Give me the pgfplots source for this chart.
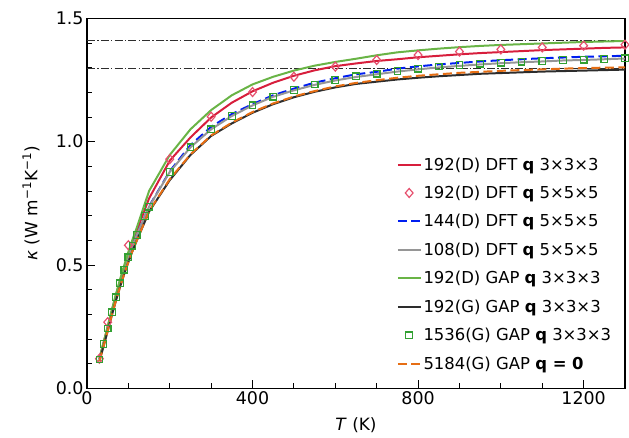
\documentclass[border=0pt]{standalone}
\usepackage{fontspec}
\setmainfont{DejaVu Sans}
\usepackage{pgfplots}
\pgfplotsset{compat=1.18}
\definecolor{cred}{RGB}{215,30,60}
\definecolor{cdiam}{RGB}{230,80,110}
\definecolor{cblue}{RGB}{0,30,240}
\definecolor{cgray}{RGB}{150,150,150}
\definecolor{cgreen}{RGB}{105,180,70}
\definecolor{cblack}{RGB}{45,45,45}
\definecolor{csq}{RGB}{50,160,50}
\definecolor{corange}{RGB}{230,110,20}
\begin{document}
\begin{tikzpicture}
\begin{axis}[
 scale only axis, width=538bp, height=370bp, at={(0,0)}, anchor=south west,
 xmin=0, xmax=1300, ymin=0, ymax=1.5,
 xtick={0,400,800,1200}, xticklabels={0,400,800,1200}, minor x tick num=3,
 ytick={0,0.5,1.0,1.5}, yticklabels={0.0,0.5,1.0,1.5}, minor y tick num=4,
 tick pos=left, tick align=inside,
 major tick length=8bp, minor tick length=5bp,
 every tick/.style={black, line width=0.9pt},
 axis line style={line width=1.1pt},
 ticklabel style={font=\fontsize{17.5}{20}\selectfont},
 xlabel={\textit{T} (K)}, ylabel={\textit{κ} (W m\textsuperscript{−1}K\textsuperscript{−1})},
 label style={font=\fontsize{17}{20}\selectfont},
 ylabel style={at={(axis description cs:-0.104,0.5)}, anchor=center},
 xlabel style={at={(axis description cs:0.5,-0.099)}, anchor=center},
 legend style={draw=none, fill=none, at={(0.57,0.635)}, anchor=north west,
   font=\fontsize{16.5}{19}\selectfont, row sep=10.5bp, cells={anchor=west}},
 legend image code/.code={\draw[mark repeat=2,mark phase=2,#1] plot coordinates {(0cm,0cm) (0.4cm,0cm) (0.8cm,0cm)};},
]
\addplot[cblack, line width=0.8pt, dash pattern=on 8bp off 2.2bp on 1.4bp off 2.2bp, forget plot] coordinates {(0,1.41) (1300,1.41)};
\addplot[cblack, line width=0.8pt, dash pattern=on 8bp off 2.2bp on 1.4bp off 2.2bp, forget plot] coordinates {(0,1.296) (1300,1.296)};
% 192(D) DFT q 3x3x3
\addplot[cred, no marks, line width=2pt] coordinates {(30,0.12) (40,0.185) (50,0.25) (60,0.315) (70,0.378) (80,0.437) (90,0.492) (100,0.545) (110,0.593) (120,0.638) (150,0.77) (200,0.923) (250,1.017) (300,1.098) (350,1.158) (400,1.204) (450,1.239) (500,1.267) (550,1.289) (600,1.306) (650,1.317) (700,1.327) (750,1.334) (800,1.342) (850,1.348) (900,1.354) (950,1.359) (1000,1.363) (1050,1.367) (1100,1.371) (1150,1.374) (1200,1.377) (1250,1.380) (1300,1.382)};
\addlegendentry{192(D) DFT \textbf{q} 3×3×3}
% 192(D) DFT q 5x5x5
\addplot[cdiam, only marks, mark=diamond, mark size=4.5pt, mark options={xscale=1.15, line width=1.2pt}] coordinates {(30,0.12) (50,0.268) (100,0.58) (200,0.929) (300,1.101) (400,1.201) (500,1.263) (600,1.304) (700,1.331) (800,1.351) (900,1.365) (1000,1.374) (1100,1.382) (1200,1.389) (1300,1.393)};
\addlegendentry{192(D) DFT \textbf{q} 5×5×5}
% 144(D) DFT q 5x5x5
\addplot[cblue, no marks, line width=2pt, dash pattern=on 9bp off 4.5bp] coordinates {(30,0.117) (40,0.18) (50,0.242) (60,0.308) (70,0.369) (80,0.426) (90,0.481) (100,0.531) (110,0.578) (120,0.621) (140,0.698) (150,0.738) (200,0.88) (250,0.986) (300,1.060) (350,1.112) (400,1.152) (450,1.188) (500,1.215) (550,1.239) (600,1.257) (650,1.273) (700,1.283) (750,1.296) (800,1.305) (850,1.313) (900,1.319) (950,1.325) (1000,1.330) (1050,1.334) (1100,1.338) (1150,1.341) (1200,1.344) (1250,1.346) (1300,1.348)};
\addlegendentry{144(D) DFT \textbf{q} 5×5×5}
% 108(D) DFT q 5x5x5
\addplot[cgray, no marks, line width=2pt] coordinates {(30,0.117) (40,0.18) (50,0.242) (60,0.308) (70,0.369) (80,0.426) (90,0.481) (100,0.531) (110,0.578) (120,0.621) (140,0.698) (150,0.736) (200,0.877) (250,0.977) (300,1.050) (350,1.104) (400,1.147) (450,1.182) (500,1.208) (550,1.230) (600,1.248) (650,1.262) (700,1.273) (750,1.284) (800,1.293) (850,1.301) (900,1.307) (950,1.313) (1000,1.318) (1050,1.322) (1100,1.325) (1150,1.329) (1200,1.331) (1250,1.334) (1300,1.337)};
\addlegendentry{108(D) DFT \textbf{q} 5×5×5}
% 192(D) GAP q 3x3x3
\addplot[cgreen, no marks, line width=2pt] coordinates {(30,0.12) (40,0.185) (50,0.25) (60,0.318) (70,0.382) (80,0.442) (90,0.499) (100,0.553) (110,0.603) (120,0.65) (150,0.80) (200,0.946) (250,1.05) (300,1.128) (350,1.188) (400,1.232) (450,1.263) (500,1.288) (550,1.308) (600,1.323) (650,1.336) (700,1.350) (750,1.362) (800,1.370) (850,1.377) (900,1.383) (950,1.388) (1000,1.392) (1050,1.395) (1100,1.398) (1150,1.401) (1200,1.404) (1250,1.406) (1300,1.408)};
\addlegendentry{192(D) GAP \textbf{q} 3×3×3}
% 192(G) GAP q 3x3x3
\addplot[cblack, no marks, line width=2pt] coordinates {(30,0.11) (40,0.17) (50,0.232) (60,0.296) (70,0.356) (80,0.412) (90,0.464) (100,0.512) (110,0.557) (120,0.598) (150,0.716) (200,0.844) (250,0.946) (300,1.023) (350,1.074) (400,1.117) (450,1.152) (500,1.180) (550,1.202) (600,1.220) (650,1.234) (700,1.243) (750,1.252) (800,1.259) (850,1.265) (900,1.270) (950,1.275) (1000,1.278) (1050,1.281) (1100,1.284) (1150,1.286) (1200,1.288) (1250,1.290) (1300,1.292)};
\addlegendentry{192(G) GAP \textbf{q} 3×3×3}
% 1536(G) GAP q 3x3x3
\addplot[csq, only marks, mark=square, mark size=3.3pt, mark options={line width=1.2pt}] coordinates {(30,0.117) (40,0.180) (50,0.242) (60,0.308) (70,0.369) (80,0.426) (90,0.481) (100,0.531) (110,0.578) (120,0.621) (140,0.698) (150,0.736) (200,0.877) (250,0.977) (300,1.050) (350,1.104) (400,1.147) (450,1.182) (500,1.209) (550,1.232) (600,1.250) (650,1.265) (700,1.275) (750,1.287) (800,1.296) (850,1.305) (900,1.310) (950,1.316) (1000,1.320) (1050,1.324) (1100,1.327) (1150,1.331) (1200,1.332) (1250,1.335) (1300,1.338)};
\addlegendentry{1536(G) GAP \textbf{q} 3×3×3}
% 5184(G) GAP q = 0
\addplot[corange, no marks, line width=2pt, dash pattern=on 9bp off 4.5bp] coordinates {(30,0.11) (40,0.17) (50,0.232) (60,0.296) (70,0.356) (80,0.412) (90,0.464) (100,0.512) (110,0.557) (120,0.598) (150,0.718) (200,0.848) (250,0.948) (300,1.025) (350,1.077) (400,1.120) (450,1.155) (500,1.183) (550,1.205) (600,1.224) (650,1.238) (700,1.249) (750,1.259) (800,1.267) (850,1.273) (900,1.279) (950,1.283) (1000,1.287) (1050,1.290) (1100,1.293) (1150,1.296) (1200,1.298) (1250,1.300) (1300,1.301)};
\addlegendentry{5184(G) GAP \textbf{q = 0}}
\end{axis}
\pgfresetboundingbox
\path[use as bounding box] (-87bp,-49.7bp) rectangle (542bp,388.3bp);
\end{tikzpicture}
\end{document}
